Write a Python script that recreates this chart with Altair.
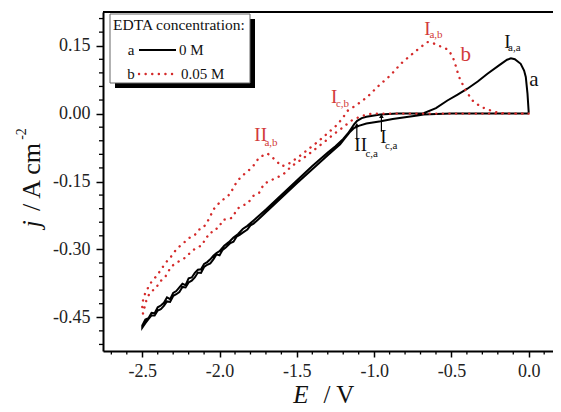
import altair as alt
import pandas as pd

# ---------------- data ----------------
# curve a : 0 M EDTA (black, solid) - cathodic sweep then anodic return
E_a = [0.0, -0.30, -0.50, -0.60, -0.68, -0.72, -0.80, -0.88, -0.957, -1.05, -1.10, -1.13, -1.16, -1.19, -1.22,
       -1.30, -1.40, -1.50, -1.60, -1.70, -1.75, -1.78, -1.80, -1.82, -1.85, -1.87, -1.89, -1.91, -1.93, -1.96,
       -1.98, -2.00, -2.02, -2.04, -2.06, -2.08, -2.10, -2.12, -2.14, -2.16, -2.18, -2.20, -2.22, -2.24, -2.26,
       -2.28, -2.30, -2.32, -2.34, -2.36, -2.38, -2.40, -2.42, -2.44, -2.46, -2.48, -2.50,
       -2.50, -2.48, -2.46, -2.44, -2.42, -2.40, -2.38, -2.36, -2.34, -2.32, -2.30, -2.28, -2.26, -2.24, -2.22,
       -2.20, -2.18, -2.16, -2.14, -2.12, -2.10, -2.08, -2.06, -2.04, -2.02, -2.00, -1.97, -1.94, -1.91, -1.88,
       -1.85, -1.82, -1.78, -1.74, -1.70, -1.60, -1.50, -1.40, -1.30, -1.25, -1.20, -1.17, -1.15, -1.13, -1.11,
       -1.08, -1.05, -0.96, -0.85, -0.68, -0.60, -0.526, -0.46, -0.397, -0.33, -0.267, -0.19, -0.14, -0.115,
       -0.09, -0.052, -0.030, -0.019, -0.008, 0.0]
j_a = [0.0, 0.0, 0.0, -0.001, -0.002, -0.004, -0.008, -0.012, -0.017, -0.022, -0.027, -0.032, -0.042, -0.055, -0.068,
       -0.092, -0.123, -0.154, -0.186, -0.218, -0.234, -0.243, -0.247, -0.256, -0.263, -0.268, -0.272, -0.283, -0.286, -0.296,
       -0.301, -0.313, -0.311, -0.322, -0.331, -0.334, -0.339, -0.352, -0.351, -0.362, -0.369, -0.373, -0.384, -0.383, -0.394,
       -0.399, -0.403, -0.416, -0.415, -0.425, -0.432, -0.435, -0.446, -0.446, -0.454, -0.463, -0.473,
       -0.468, -0.455, -0.452, -0.440, -0.441, -0.428, -0.424, -0.418, -0.406, -0.410, -0.396, -0.392, -0.384, -0.376, -0.379,
       -0.364, -0.362, -0.352, -0.345, -0.344, -0.332, -0.328, -0.322, -0.314, -0.308, -0.304, -0.292, -0.284, -0.274, -0.266,
       -0.255, -0.248, -0.236, -0.224, -0.212, -0.180, -0.148, -0.116, -0.086, -0.072, -0.056, -0.044, -0.034, -0.024, -0.016,
       -0.010, -0.007, -0.002, 0.0, 0.001, 0.012, 0.029, 0.042, 0.055, 0.071, 0.088, 0.107, 0.119, 0.122,
       0.120, 0.110, 0.095, 0.081, 0.044, 0.002]

# curve b : 0.05 M EDTA (red, dotted)
E_b = [0.0, -0.50, -1.00, -1.05, -1.10, -1.15, -1.20, -1.26, -1.32, -1.38, -1.44, -1.50, -1.54, -1.59, -1.647,
       -1.712, -1.744, -1.777, -1.82, -1.85, -1.885, -1.917, -1.949, -1.981, -2.003, -2.046, -2.06, -2.089, -2.111,
       -2.15, -2.186, -2.22, -2.251, -2.29, -2.316, -2.34, -2.359, -2.39, -2.412, -2.44, -2.466, -2.48, -2.495,
       -2.50, -2.50, -2.49, -2.477, -2.455, -2.434, -2.41, -2.381, -2.35, -2.316, -2.28, -2.251, -2.22, -2.186,
       -2.16, -2.132, -2.111, -2.083, -2.061, -2.035, -2.01, -1.992, -1.958, -1.932, -1.902, -1.863, -1.820, -1.787,
       -1.744, -1.715, -1.690, -1.665, -1.637, -1.60, -1.57, -1.54, -1.475, -1.42, -1.36, -1.30, -1.24, -1.20,
       -1.173, -1.11, -1.043, -0.979, -0.893, -0.828, -0.763, -0.699, -0.655, -0.62, -0.591, -0.55, -0.516, -0.483,
       -0.451, -0.408, -0.364, -0.310, -0.224, -0.15, 0.0]
j_b = [0.0, 0.0, 0.0, -0.002, -0.008, -0.016, -0.030, -0.045, -0.062, -0.078, -0.094, -0.108, -0.118, -0.135, -0.144,
       -0.155, -0.175, -0.180, -0.199, -0.203, -0.210, -0.230, -0.233, -0.235, -0.252, -0.258, -0.269, -0.273, -0.291,
       -0.296, -0.306, -0.318, -0.324, -0.332, -0.339, -0.355, -0.364, -0.372, -0.387, -0.392, -0.405, -0.420, -0.442,
       -0.435, -0.420, -0.405, -0.394, -0.380, -0.368, -0.360, -0.346, -0.330, -0.317, -0.300, -0.291, -0.282, -0.272,
       -0.268, -0.256, -0.254, -0.242, -0.227, -0.210, -0.200, -0.195, -0.184, -0.178, -0.158, -0.140, -0.128, -0.118,
       -0.097, -0.092, -0.088, -0.095, -0.103, -0.116, -0.114, -0.108, -0.092, -0.077, -0.061, -0.043, -0.025, -0.008,
       0.006, 0.020, 0.037, 0.059, 0.085, 0.110, 0.129, 0.147, 0.158, 0.156, 0.151, 0.146, 0.140, 0.118,
       0.081, 0.051, 0.029, 0.015, 0.004, 0.0, 0.0]

x_major = [-2.5, -2.0, -1.5, -1.0, -0.5, 0.0]
x_minor = [-2.7, -2.6, -2.4, -2.3, -2.2, -2.1, -1.9, -1.8, -1.7, -1.6, -1.4, -1.3, -1.2, -1.1,
           -0.9, -0.8, -0.7, -0.6, -0.4, -0.3, -0.2, -0.1, 0.1]
y_major = [-0.45, -0.30, -0.15, 0.00, 0.15]
y_minor = [-0.51, -0.48, -0.42, -0.39, -0.36, -0.33, -0.27, -0.24, -0.21, -0.18, -0.12, -0.09, -0.06,
           -0.03, 0.03, 0.06, 0.09, 0.12, 0.18, 0.21]

# peak labels: main symbol, subscript, colour
lab_main = ["I", "I", "I", "II", "I", "II"]
lab_sub = ["a,b", "a,a", "c,b", "c,a", "c,a", "a,b"]
lab_col = ["#d23a3a", "#111111", "#d23a3a", "#111111", "#111111", "#d23a3a"]
lab_E = [-0.655, -0.138, -1.259, -1.087, -0.940, -1.734]
lab_j = [0.188, 0.158, 0.037, -0.070, -0.052, -0.048]
sub_E = [-0.600, -0.093, -1.205, -1.016, -0.890, -1.667]
sub_j = [0.174, 0.144, 0.022, -0.090, -0.072, -0.065]

# curve letters
cur_txt = ["b", "a"]
cur_col = ["#d23a3a", "#111111"]
cur_E = [-0.408, 0.034]
cur_j = [0.129, 0.074]

# arrows (tip at curve)
arr_E = [-1.112, -0.953]
arr_tip = [-0.025, -0.005]
arr_base = [-0.058, -0.040]

# ---------------- chart ----------------
FONT = "Liberation Serif"
RED = "#d42a2a"
W, H = 450, 339
xs = alt.Scale(domain=[-2.754, 0.157], nice=False, zero=False)
ys = alt.Scale(domain=[-0.5245, 0.2245], nice=False, zero=False)

df_a = pd.DataFrame({"E": E_a, "j": j_a, "i": range(len(E_a))})
df_b = pd.DataFrame({"E": E_b, "j": j_b, "i": range(len(E_b))})

neg_fmt_x = "datum.value < 0 ? '-' + format(-datum.value, '.1f') : format(datum.value, '.1f')"
neg_fmt_y = "datum.value < 0 ? '-' + format(-datum.value, '.2f') : format(datum.value, '.2f')"


def X(field):
    return alt.X(field, scale=xs, title=None)


def Y(field):
    return alt.Y(field, scale=ys, title=None)


line_a = alt.Chart(df_a).mark_line(color="#000000", strokeWidth=2).encode(
    x=alt.X("E:Q", scale=xs, title=None,
            axis=alt.Axis(values=x_major, labelExpr=neg_fmt_x, tickSize=6, labelPadding=5, grid=False,
                          labelFont=FONT, labelFontSize=18, labelColor="#222",
                          domainColor="#000", domainWidth=2, tickColor="#000", tickWidth=1.5)),
    y=alt.Y("j:Q", scale=ys, title=None,
            axis=alt.Axis(values=y_major, labelExpr=neg_fmt_y, tickSize=7, labelPadding=6, grid=False,
                          labelFont=FONT, labelFontSize=18, labelColor="#222",
                          domainColor="#000", domainWidth=2, tickColor="#000", tickWidth=1.5)),
    order="i:Q",
)
line_b = alt.Chart(df_b).mark_line(color=RED, strokeWidth=2.4, strokeDash=[0.1, 6.5], strokeCap="round").encode(
    x=X("E:Q"), y=Y("j:Q"), order="i:Q"
)

xm = alt.Chart(pd.DataFrame({"E": x_minor})).mark_rule(color="#000", strokeWidth=1.3).encode(
    x=X("E:Q"), y=alt.value(H), y2=alt.value(H + 3.5))
ym = alt.Chart(pd.DataFrame({"j": y_minor})).mark_rule(color="#000", strokeWidth=1.3).encode(
    y=Y("j:Q"), x=alt.value(0), x2=alt.value(-4))

one = pd.DataFrame({"k": [0]})
top = alt.Chart(one).mark_rule(color="#000", strokeWidth=2).encode(
    x=alt.value(0), x2=alt.value(W), y=alt.value(0))

# legend
shadow = alt.Chart(one).mark_rect(color="#000").encode(
    x=alt.value(12), x2=alt.value(152), y=alt.value(7), y2=alt.value(76))
box = alt.Chart(one).mark_rect(fill="white", stroke="#666", strokeWidth=1).encode(
    x=alt.value(7), x2=alt.value(147), y=alt.value(2), y2=alt.value(71))
leg_title = alt.Chart(one).mark_text(font=FONT, fontSize=15.5, align="left", baseline="middle", color="#111").encode(
    x=alt.value(10), y=alt.value(13), text=alt.value("EDTA concentration:"))
leg_a = alt.Chart(one).mark_text(font=FONT, fontSize=15, align="center", baseline="middle", color="#111").encode(
    x=alt.value(28), y=alt.value(38), text=alt.value("a"))
leg_a_line = alt.Chart(one).mark_rule(color="#000", strokeWidth=2).encode(
    x=alt.value(36), x2=alt.value(73), y=alt.value(38))
leg_a_t = alt.Chart(one).mark_text(font=FONT, fontSize=15, align="left", baseline="middle", color="#111").encode(
    x=alt.value(76), y=alt.value(38), text=alt.value("0 M"))
leg_b = alt.Chart(one).mark_text(font=FONT, fontSize=15, align="center", baseline="middle", color="#111").encode(
    x=alt.value(28), y=alt.value(62), text=alt.value("b"))
leg_b_line = alt.Chart(one).mark_rule(color=RED, strokeWidth=2.4, strokeDash=[0.1, 6.5], strokeCap="round").encode(
    x=alt.value(36), x2=alt.value(74), y=alt.value(62))
leg_b_t = alt.Chart(one).mark_text(font=FONT, fontSize=15, align="left", baseline="middle", color="#111").encode(
    x=alt.value(78), y=alt.value(62), text=alt.value("0.05 M"))

# annotations
df_lab = pd.DataFrame({"E": lab_E, "j": lab_j, "t": lab_main, "c": lab_col})
df_sub = pd.DataFrame({"E": sub_E, "j": sub_j, "t": lab_sub, "c": lab_col})
df_cur = pd.DataFrame({"E": cur_E, "j": cur_j, "t": cur_txt, "c": cur_col})
lab = alt.Chart(df_lab).mark_text(font=FONT, fontSize=19, baseline="middle", align="center").encode(
    x=X("E:Q"), y=Y("j:Q"), text="t:N", color=alt.Color("c:N", scale=None))
sub = alt.Chart(df_sub).mark_text(font=FONT, fontSize=11, baseline="middle", align="center").encode(
    x=X("E:Q"), y=Y("j:Q"), text="t:N", color=alt.Color("c:N", scale=None))
cur = alt.Chart(df_cur).mark_text(font=FONT, fontSize=21, baseline="middle", align="center").encode(
    x=X("E:Q"), y=Y("j:Q"), text="t:N", color=alt.Color("c:N", scale=None))

df_arr = pd.DataFrame({"E": arr_E, "j": arr_tip, "base": arr_base})
arr_shaft = alt.Chart(df_arr).mark_rule(color="#000", strokeWidth=1.2).encode(
    x=X("E:Q"), y=Y("base:Q"), y2="j:Q")
arr_head = alt.Chart(df_arr).mark_point(shape="triangle-up", filled=True, color="#000", size=22, opacity=1).encode(
    x=X("E:Q"), y=Y("j:Q"))

# axis titles (mixed italic / upright)
xt_E = alt.Chart(one).mark_text(font=FONT, fontSize=25, fontStyle="italic", align="center", baseline="alphabetic", color="#111").encode(
    x=alt.value(198), y=alt.value(391), text=alt.value("E"))
xt_V = alt.Chart(one).mark_text(font=FONT, fontSize=25, align="center", baseline="alphabetic", color="#111").encode(
    x=alt.value(236), y=alt.value(391), text=alt.value("/  V"))
yt_j = alt.Chart(one).mark_text(font=FONT, fontSize=26, fontStyle="italic", angle=270, align="center", baseline="alphabetic", color="#111").encode(
    x=alt.value(-63), y=alt.value(212), text=alt.value("j"))
yt_u = alt.Chart(one).mark_text(font=FONT, fontSize=26, angle=270, align="center", baseline="alphabetic", color="#111").encode(
    x=alt.value(-63), y=alt.value(165), text=alt.value("/ A cm"))
yt_e = alt.Chart(one).mark_text(font=FONT, fontSize=14, angle=270, align="center", baseline="alphabetic", color="#111").encode(
    x=alt.value(-77), y=alt.value(122), text=alt.value("-2"))

chart = alt.layer(
    line_a, line_b, xm, ym, top,
    shadow, box, leg_title, leg_a, leg_a_line, leg_a_t, leg_b, leg_b_line, leg_b_t,
    lab, sub, cur, arr_shaft, arr_head,
    xt_E, xt_V, yt_j, yt_u, yt_e,
).properties(
    width=W, height=H,
    autosize=alt.AutoSizeParams(type="none"),
    padding={"left": 95, "top": 4, "right": 0, "bottom": 60},
    background="white",
).configure_view(stroke=None)

chart.save("out.html", embed_options={"renderer": "svg", "actions": False})
